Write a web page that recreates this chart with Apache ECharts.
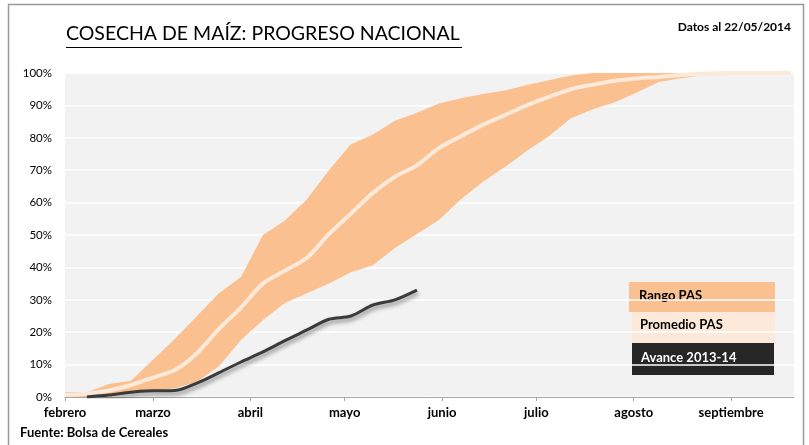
<!DOCTYPE html>
<html>
<head>
<meta charset="utf-8">
<script src="https://cdn.jsdelivr.net/npm/echarts@6/dist/echarts.min.js"></script>
<style>
html,body{margin:0;padding:0;background:#fff;}
#c{width:809px;height:445px;}
</style>
</head>
<body>
<div id="c"></div>
<script>
// Days since 1 February (weekly observations)
var days = [0,7,14,21,28,35,42,49,56,63,70,77,84,91,98,105,112,119,126,133,140,147,154,161,168,175,182,189,196,203,210,217,224,231];
var rangoMin = [0,0,0.3,1,2,2.7,4.7,9.5,17.6,23.8,29,32,35,38.5,40.7,46,50.3,54.6,61,66.4,71,76,80.5,86,88.8,91,94,97.2,98.4,99.3,100,100,100,100];
var rangoMax = [1.5,1.5,4,5,11.5,18,25,32,37,50,54.5,61,70,78,81,85.3,87.7,90.6,92.2,93.5,94.6,96.3,97.8,99.2,100,100,100,100,100,100,100,100,100,100];
var promedio = [0.6,1,2,3.7,6,8.3,13.5,21,27.6,35,39,43,50.3,56.6,63,68,71.5,76.8,80.5,84,87,90,92.6,95,96.4,97.6,98.3,98.8,99.4,99.8,100,100,100,100];
var avanceDays = [7,14,21,28,35,42,49,56,63,70,77,84,91,98,105,112];
var avance = [0,0.6,1.5,1.9,2,4.3,7.5,10.8,13.9,17.4,20.7,24,25,28.4,30,33];
var monthStarts = [0,28,59,89,120,150,181,212];
var monthNames = ['febrero','marzo','abril','mayo','junio','julio','agosto','septiembre'];

var FONT = 'Lato, "Liberation Sans", sans-serif';

var bandData = days.map(function(d,i){return [d, rangoMin[i], rangoMax[i]];});
var meanData = days.map(function(d,i){return [d, promedio[i]];});
var avData = avanceDays.map(function(d,i){return [d, avance[i]];});

function renderBand(params, api){
  if (params.dataIndex !== 0) return null;
  var pts = [];
  var i;
  for (i = 0; i < bandData.length; i++) pts.push(api.coord([bandData[i][0], bandData[i][2]]));
  for (i = bandData.length - 1; i >= 0; i--) pts.push(api.coord([bandData[i][0], bandData[i][1]]));
  return {type:'polygon', shape:{points:pts}, style:{fill:'#FAC090', stroke:null}};
}

var chart = echarts.init(document.getElementById('c'), null, {renderer:'canvas'});
chart.setOption({
  animation:false,
  backgroundColor:'#ffffff',
  grid:{left:65, right:15, top:73, bottom:48, show:true, backgroundColor:'#f2f2f2', borderWidth:0},
  xAxis:{
    type:'value', min:0, max:232,
    axisLine:{show:true, lineStyle:{color:'#a6a6a6', width:1}},
    axisTick:{show:true, customValues:monthStarts, length:4, lineStyle:{color:'#a6a6a6'}},
    axisLabel:{customValues:monthStarts, margin:9, fontFamily:FONT, fontWeight:'bold', fontSize:13, color:'#000',
      formatter:function(v){var i=monthStarts.indexOf(v);return i>=0?monthNames[i]:'';}},
    splitLine:{show:false}
  },
  yAxis:{
    type:'value', min:0, max:100, interval:10,
    axisLine:{show:false}, axisTick:{show:false},
    axisLabel:{formatter:'{value}%', margin:13, fontFamily:FONT, fontSize:11.5, color:'#000'},
    splitLine:{show:true, lineStyle:{color:'#ffffff', width:1.5}}
  },
  series:[
    {name:'Rango PAS', type:'custom', renderItem:renderBand, data:bandData,
      encode:{x:0, y:[1,2]}, silent:true, z:1, clip:true},
    {name:'Promedio PAS', type:'line', data:meanData, symbol:'none', smooth:0.3,
      lineStyle:{color:'#FDE9D9', width:4}, z:3},
    {name:'Avance 2013-14', type:'line', data:avData, symbol:'none', smooth:0.3,
      lineStyle:{color:'#3b3b3b', width:3, shadowColor:'rgba(0,0,0,0.45)', shadowBlur:4, shadowOffsetX:1, shadowOffsetY:3}, z:4}
  ],
  graphic:[
    {type:'rect', shape:{x:8.5, y:4.5, width:795, height:460}, style:{fill:null, stroke:'#9a9a9a', lineWidth:1.5}, silent:true},
    {type:'text', left:66, top:24, style:{text:'COSECHA DE MAÍZ: PROGRESO NACIONAL', font:'19.5px '+FONT, fill:'#000'}},
    {type:'line', shape:{x1:66, y1:47.5, x2:462, y2:47.5}, style:{stroke:'#000', lineWidth:1}},
    {type:'text', right:18, top:21, style:{text:'Datos al 22/05/2014', font:'bold 12px '+FONT, fill:'#000'}},
    {type:'text', left:20, top:426, style:{text:'Fuente: Bolsa de Cereales', font:'bold 13px '+FONT, fill:'#000'}},
    {type:'rect', shape:{x:629, y:282, width:146, height:30}, style:{fill:'#FAC090'}},
    {type:'rect', shape:{x:632, y:312, width:143, height:31}, style:{fill:'#FDE9D9'}},
    {type:'rect', shape:{x:632, y:343, width:142, height:32}, style:{fill:'#262626'}},
    {type:'text', left:639, top:289, style:{text:'Rango PAS', font:'bold 13px '+FONT, fill:'#000'}},
    {type:'text', left:640, top:318, style:{text:'Promedio PAS', font:'bold 13px '+FONT, fill:'#000'}},
    {type:'text', left:641, top:351, style:{text:'Avance 2013-14', font:'bold 13px '+FONT, fill:'#ffffff'}}
  ]
});
</script>
</body>
</html>
